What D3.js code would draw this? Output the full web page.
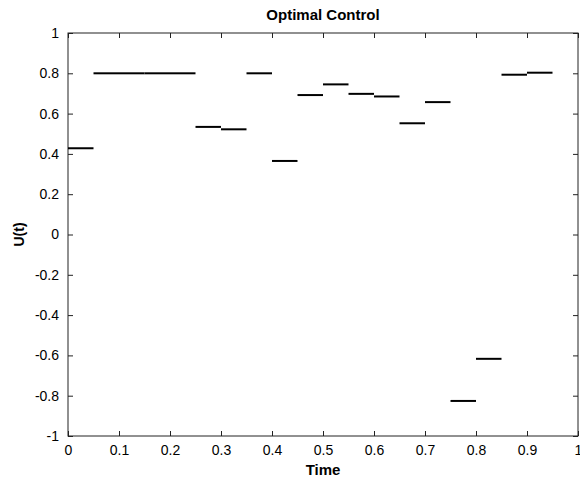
<!DOCTYPE html>
<html>
<head>
<meta charset="utf-8">
<script src="https://cdn.jsdelivr.net/npm/d3@7"></script>
<style>
  body { margin: 0; background: #fff; }
  svg text { font-family: "Liberation Sans", Arial, sans-serif; fill: #000; }
</style>
</head>
<body>
<div id="container"></div>
<script>
/* DATA */
// each segment covers [t, t + 0.05)
const segStart = [0, 0.05, 0.10, 0.15, 0.20, 0.25, 0.30, 0.35, 0.40, 0.45,
  0.50, 0.55, 0.60, 0.65, 0.70, 0.75, 0.80, 0.85, 0.90];
const uValues = [0.428, 0.8, 0.8, 0.8, 0.8, 0.534, 0.522, 0.8, 0.365, 0.692,
  0.745, 0.698, 0.685, 0.552, 0.657, -0.826, -0.617, 0.793, 0.803];
const segWidth = 0.05;
const xTicks = [0, 0.1, 0.2, 0.3, 0.4, 0.5, 0.6, 0.7, 0.8, 0.9, 1];
const yTicks = [-1, -0.8, -0.6, -0.4, -0.2, 0, 0.2, 0.4, 0.6, 0.8, 1];

/* CONSTANTS */
const width = 580, height = 480,
  margin = { top: 33, bottom: 44, left: 68, right: 2 };

const data = segStart.map((t, i) => ({ t0: t, t1: t + segWidth, u: uValues[i] }));

/* SCALES */
const xScale = d3.scaleLinear()
  .domain([0, 1])
  .range([margin.left, width - margin.right]);

const yScale = d3.scaleLinear()
  .domain([-1, 1])
  .range([height - margin.bottom, margin.top]);

/* SVG */
const svg = d3.select("#container")
  .append("svg")
  .attr("width", width)
  .attr("height", height);

// box
svg.append("rect")
  .attr("x", margin.left)
  .attr("y", margin.top)
  .attr("width", xScale(1) - xScale(0))
  .attr("height", yScale(-1) - yScale(1))
  .attr("fill", "none")
  .attr("stroke", "#222")
  .attr("stroke-width", 1);

// axes, ticks inward (matlab style), plain hyphen minus
const fmt = d => String(+d.toFixed(1));
const tickLen = 5;

svg.append("g")
  .attr("transform", `translate(0,${height - margin.bottom})`)
  .call(d3.axisBottom(xScale).tickValues(xTicks).tickSize(-tickLen).tickPadding(tickLen + 4).tickFormat(fmt));

svg.append("g")
  .attr("transform", `translate(0,${margin.top})`)
  .call(d3.axisTop(xScale).tickValues(xTicks).tickSize(-tickLen).tickFormat(""));

svg.append("g")
  .attr("transform", `translate(${margin.left},0)`)
  .call(d3.axisLeft(yScale).tickValues(yTicks).tickSize(-tickLen).tickPadding(tickLen + 4).tickFormat(fmt));

svg.append("g")
  .attr("transform", `translate(${width - margin.right},0)`)
  .call(d3.axisRight(yScale).tickValues(yTicks).tickSize(-tickLen).tickFormat(""));

svg.selectAll(".domain").remove();
svg.selectAll(".tick line").attr("stroke", "#222");
svg.selectAll(".tick text")
  .style("font-size", "14px")
  .style("font-family", "'Liberation Sans', Arial, sans-serif")
  .attr("fill", "#111");

// segments
svg.selectAll("line.seg")
  .data(data)
  .join("line")
  .attr("class", "seg")
  .attr("x1", d => xScale(d.t0))
  .attr("x2", d => xScale(d.t1))
  .attr("y1", d => yScale(d.u))
  .attr("y2", d => yScale(d.u))
  .attr("stroke", "#000")
  .attr("stroke-width", 2);

// labels
svg.append("text")
  .attr("x", (xScale(0) + xScale(1)) / 2)
  .attr("y", 20)
  .attr("text-anchor", "middle")
  .style("font-size", "15px")
  .style("font-weight", "bold")
  .text("Optimal Control");

svg.append("text")
  .attr("x", (xScale(0) + xScale(1)) / 2)
  .attr("y", 475)
  .attr("text-anchor", "middle")
  .style("font-size", "15px")
  .style("font-weight", "bold")
  .text("Time");

svg.append("text")
  .attr("transform", `translate(24,${(yScale(-1) + yScale(1)) / 2}) rotate(-90)`)
  .attr("text-anchor", "middle")
  .style("font-size", "14px")
  .style("font-weight", "bold")
  .text("U(t)");
</script>
</body>
</html>
